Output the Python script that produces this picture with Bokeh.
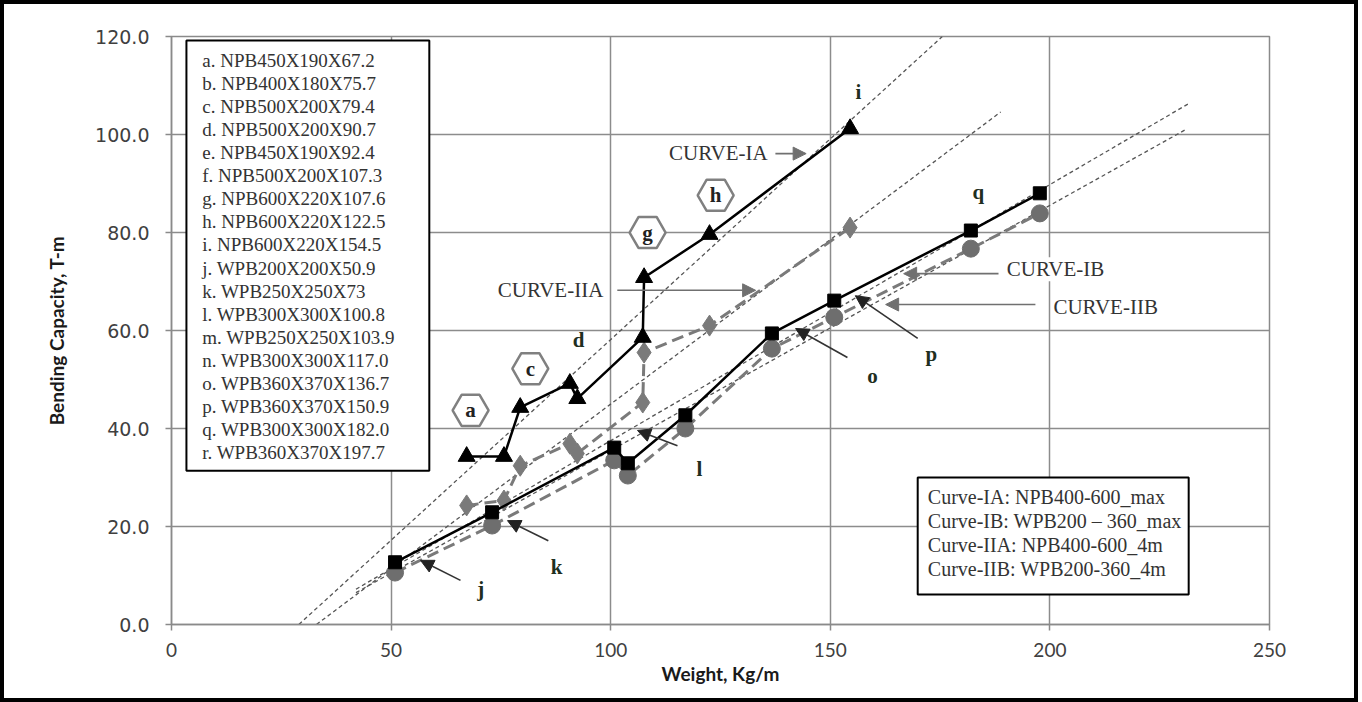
from bokeh.plotting import figure
from bokeh.models import (Range1d, Arrow, NormalHead, Label, BoxAnnotation,
                          NumeralTickFormatter, FixedTicker)
from bokeh.core.properties import value
from bokeh.embed import file_html
from bokeh.resources import INLINE

# ---------------- data ----------------
npb_weight = [67.2, 75.7, 79.4, 90.7, 92.4, 107.3, 107.6, 122.5, 154.5]
curve_ia = [34.3, 34.3, 44.3, 49.2, 46.1, 58.6, 70.8, 79.6, 101.2]
curve_iia = [24.3, 25.3, 32.4, 36.9, 34.9, 45.3, 55.5, 61.0, 81.0]

wpb_weight = [50.9, 73.0, 100.8, 103.9, 117.0, 136.7, 150.9, 182.0, 197.7]
curve_ib = [12.7, 22.9, 36.1, 32.9, 42.7, 59.4, 66.1, 80.4, 88.0]
curve_iib = [10.6, 20.2, 33.5, 30.4, 40.0, 56.3, 62.7, 76.7, 83.9]

# trend lines (IA, IIA, IB, IIB)
trend_x0 = [29.0, 33.0, 42.0, 42.0]
trend_y0 = [0.0, 0.0, 7.2, 6.5]
trend_x1 = [175.5, 188.8, 231.6, 230.9]
trend_y1 = [120.0, 104.6, 106.3, 101.0]

section_list = [
    "a. NPB450X190X67.2", "b. NPB400X180X75.7", "c. NPB500X200X79.4",
    "d. NPB500X200X90.7", "e. NPB450X190X92.4", "f. NPB500X200X107.3",
    "g. NPB600X220X107.6", "h. NPB600X220X122.5", "i. NPB600X220X154.5",
    "j. WPB200X200X50.9", "k. WPB250X250X73", "l. WPB300X300X100.8",
    "m. WPB250X250X103.9", "n. WPB300X300X117.0", "o. WPB360X370X136.7",
    "p. WPB360X370X150.9", "q. WPB300X300X182.0", "r. WPB360X370X197.7",
]
curve_list = [
    "Curve-IA: NPB400-600_max", "Curve-IB: WPB200 \u2013 360_max",
    "Curve-IIA: NPB400-600_4m", "Curve-IIB: WPB200-360_4m",
]
x_ticks = [0, 50, 100, 150, 200, 250]
y_ticks = [0, 20, 40, 60, 80, 100, 120]

# ---------------- figure ----------------
p = figure(frame_width=1098, frame_height=588,
           x_range=Range1d(0, 250), y_range=Range1d(0, 120),
           output_backend="svg", toolbar_location=None,
           min_border_left=167, min_border_right=85, min_border_top=32,
           min_border_bottom=74)
p.styles = {"border": "4px solid black"}
p.background_fill_color = "white"
p.border_fill_color = "white"
p.outline_line_color = "#8a8a8a"
p.outline_line_width = 1.5

grid_color = "#8c8c8c"
p.xgrid.grid_line_color = grid_color
p.ygrid.grid_line_color = grid_color
p.xgrid.grid_line_width = 1.5
p.ygrid.grid_line_width = 1.5
p.xaxis.ticker = FixedTicker(ticks=x_ticks)
p.yaxis.ticker = FixedTicker(ticks=y_ticks)
p.yaxis.formatter = NumeralTickFormatter(format="0.0")
for ax in (p.xaxis, p.yaxis):
    ax.axis_line_color = "#8a8a8a"
    ax.axis_line_width = 1.5
    ax.major_tick_line_color = "#8a8a8a"
    ax.major_tick_line_width = 1.5
    ax.major_tick_out = 6
    ax.major_tick_in = 0
    ax.minor_tick_line_color = None
    ax.major_label_text_color = "#404040"
    ax.axis_label_text_font_style = "bold"
    ax.axis_label_text_color = "#1a1a1a"

p.yaxis.major_label_text_font = "DejaVu Sans"
p.yaxis.major_label_text_font_size = "19px"
p.yaxis.major_label_standoff = 16
p.xaxis.major_label_text_font = "Lato"
p.xaxis.major_label_text_font_size = "19px"
p.xaxis.major_label_standoff = 12
p.yaxis.axis_label = "Bending Capacity, T-m"
p.yaxis.axis_label_text_font = "Lato"
p.yaxis.axis_label_text_font_size = "19px"
p.yaxis.axis_label_standoff = 24
p.xaxis.axis_label = "Weight, Kg/m"
p.xaxis.axis_label_text_font = "Lato"
p.xaxis.axis_label_text_font_size = "19px"
p.xaxis.axis_label_standoff = 2

# trend lines
p.segment(x0=trend_x0, y0=trend_y0, x1=trend_x1, y1=trend_y1,
          line_color="#555555", line_width=1.3, line_dash="4 3")

# series
gray = "#7a7a7a"
p.line(npb_weight, curve_iia, line_color=gray, line_width=3, line_dash="12 6")
p.scatter(npb_weight, curve_iia, marker="diamond", size=21, fill_color=gray, line_color=gray)
p.line(wpb_weight, curve_iib, line_color=gray, line_width=3, line_dash="12 6")
p.scatter(wpb_weight, curve_iib, marker="circle", size=17, fill_color="#6e6e6e", line_color="#6e6e6e")
p.line(npb_weight, curve_ia, line_color="black", line_width=2.5)
p.scatter(npb_weight, curve_ia, marker="triangle", size=17, fill_color="black", line_color="black")
p.line(wpb_weight, curve_ib, line_color="black", line_width=2.5)
p.scatter(wpb_weight, curve_ib, marker="square", size=13, fill_color="black", line_color="black")

# ---------------- legend box (top-left) ----------------
p.add_layout(BoxAnnotation(left=3.4, right=58.7, top=119.2, bottom=31.4,
                           fill_color="white", fill_alpha=1.0,
                           line_color="black", line_alpha=1.0, line_width=2))
for i, t in enumerate(section_list):
    p.add_layout(Label(x=7.0, y=115.1 - i * 4.706, text=t, text_baseline="middle",
                       text_font="Liberation Serif", text_font_size="19px",
                       text_color="#333333"))

# ---------------- legend box (bottom-right) ----------------
p.add_layout(BoxAnnotation(left=169.9, right=231.6, top=30.0, bottom=6.1,
                           fill_color="white", fill_alpha=1.0,
                           line_color="black", line_alpha=1.0, line_width=2))
for i, t in enumerate(curve_list):
    p.add_layout(Label(x=172.2, y=26.1 - i * 4.95, text=t, text_baseline="middle",
                       text_font="Liberation Serif", text_font_size="20px",
                       text_color="#333333"))

# ---------------- curve labels with arrows ----------------
curve_tags = ["CURVE-IA", "CURVE-IIA", "CURVE-IB", "CURVE-IIB"]
curve_tag_x = [124.5, 86.3, 201.3, 212.7]
curve_tag_y = [96.2, 68.2, 72.5, 64.7]
curve_arrows = [(137.5, 96.1, 144.5, 96.1), (101.5, 68.2, 133.0, 68.2),
                (188.3, 71.6, 166.7, 71.6), (196.7, 65.3, 162.6, 65.3)]
for t, x, y in zip(curve_tags, curve_tag_x, curve_tag_y):
    p.add_layout(Label(x=x, y=y, text=t, text_align="center", text_baseline="middle",
                       text_font="Liberation Serif", text_font_size="21px",
                       text_color="#333333", background_fill_color="white",
                       background_fill_alpha=1.0))
for xs, ys, xe, ye in curve_arrows:
    p.add_layout(Arrow(x_start=xs, y_start=ys, x_end=xe, y_end=ye,
                       line_color="#707070", line_width=1.6,
                       end=NormalHead(size=13, fill_color="#707070", line_color="#707070")))

point_arrows = [(65.8, 9.0, 56.7, 13.1), (85.8, 17.1, 76.5, 21.2),
                (115.2, 36.5, 106.1, 39.6), (153.9, 54.5, 142.1, 60.4),
                (169.9, 58.4, 155.7, 67.1)]
for xs, ys, xe, ye in point_arrows:
    p.add_layout(Arrow(x_start=xs, y_start=ys, x_end=xe, y_end=ye,
                       line_color="#333333", line_width=1.6,
                       end=NormalHead(size=13, fill_color="#222222", line_color="#222222")))

# ---------------- point letters ----------------
tag_letters = ["a", "c", "g", "h"]
tag_x = [68.1, 81.7, 108.4, 123.9]
tag_y = [43.7, 52.2, 80.0, 87.6]
p.scatter(tag_x, tag_y, marker="hex", size=36, fill_color="white",
          line_color="#808080", line_width=2.5)
p.text(tag_x, tag_y, text=tag_letters, text_align="center", text_baseline="middle",
       text_font=value("Liberation Serif"), text_font_style="bold",
       text_font_size="21px", text_color="#222222")

plain_letters = ["d", "i", "j", "k", "l", "o", "p", "q"]
plain_x = [92.7, 156.4, 70.4, 87.7, 120.2, 159.6, 173.0, 183.7]
plain_y = [58.0, 108.6, 7.3, 11.8, 31.8, 50.8, 55.3, 88.2]
p.text(plain_x, plain_y, text=plain_letters, text_align="center", text_baseline="middle",
       text_font=value("Liberation Serif"), text_font_style="bold",
       text_font_size="21px", text_color="#1f2f1f")

open("out.html", "w").write(file_html(p, INLINE))
